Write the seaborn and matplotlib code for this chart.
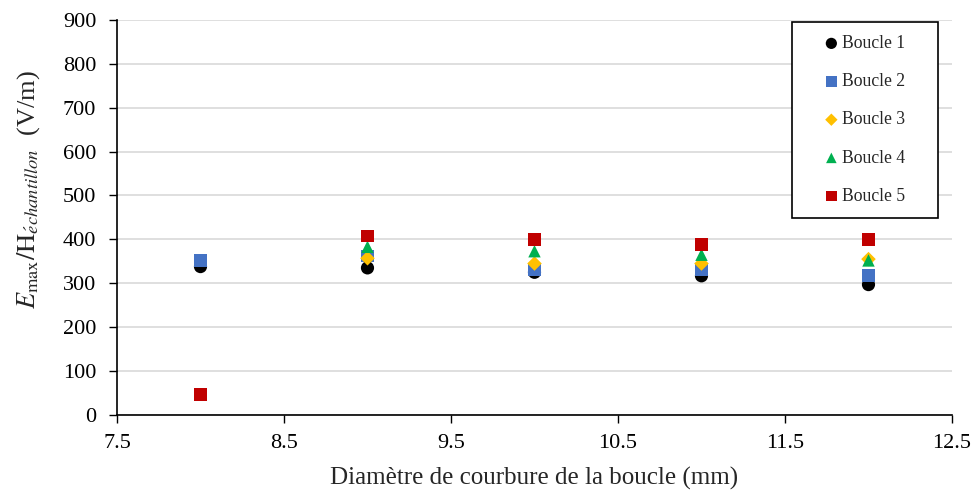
import numpy as np
import pandas as pd
import seaborn as sns
import matplotlib.pyplot as plt

# Données
diametre = [8, 9, 10, 11, 12]
boucle_1 = [338, 335, 325, 317, 297]
boucle_2 = [352, 362, 330, 330, 318]
boucle_3 = [np.nan, 357, 345, 345, 355]
boucle_4 = [np.nan, 383, 373, 365, 352]
boucle_5 = [47, 407, 400, 388, 400]

series = {'Boucle 1': boucle_1, 'Boucle 2': boucle_2, 'Boucle 3': boucle_3,
          'Boucle 4': boucle_4, 'Boucle 5': boucle_5}
couleurs = {'Boucle 1': '#000000', 'Boucle 2': '#4472C4', 'Boucle 3': '#FFC000',
            'Boucle 4': '#00B050', 'Boucle 5': '#C00000'}
marqueurs = {'Boucle 1': 'o', 'Boucle 2': 's', 'Boucle 3': 'D',
             'Boucle 4': '^', 'Boucle 5': 's'}
tailles = {'Boucle 1': 90, 'Boucle 2': 80, 'Boucle 3': 55, 'Boucle 4': 80, 'Boucle 5': 80}

df = pd.DataFrame([(d, nom, v) for nom, vals in series.items() for d, v in zip(diametre, vals)],
                  columns=['diametre', 'boucle', 'valeur']).dropna()

sns.set_style('white')
plt.rcParams['font.family'] = ['Liberation Serif', 'DejaVu Serif']
plt.rcParams['mathtext.fontset'] = 'stix'

fig, ax = plt.subplots(figsize=(9.79, 4.95), dpi=100)
fig.subplots_adjust(left=0.1195, right=0.9724, top=0.96, bottom=0.1616)

for nom in series:
    sub = df[df['boucle'] == nom]
    sns.scatterplot(data=sub, x='diametre', y='valeur', ax=ax, color=couleurs[nom],
                    marker=marqueurs[nom], s=tailles[nom], edgecolor='none', label=nom,
                    zorder=3)

ax.set_xlim(7.5, 12.5)
ax.set_ylim(0, 900)
ax.set_xticks(np.arange(7.5, 12.6, 1.0))
ax.set_xticklabels(['7.5', '8.5', '9.5', '10.5', '11.5', '12.5'])
ax.set_yticks(np.arange(0, 901, 100))
ax.yaxis.grid(True, color='#d9d9d9', linewidth=1.2)
ax.set_axisbelow(True)
for s in ['top', 'right']:
    ax.spines[s].set_visible(False)
for s in ['left', 'bottom']:
    ax.spines[s].set_color('black')
    ax.spines[s].set_linewidth(1.2)
ax.tick_params(axis='both', labelsize=16, direction='out', length=6, width=1, colors='black')
ax.tick_params(axis='y', pad=9, left=True)
ax.tick_params(axis='x', pad=8, bottom=True)

ax.set_xlabel('Diamètre de courbure de la boucle (mm)', fontsize=18, labelpad=10)
ax.set_ylabel(r'$E_{\mathrm{max}}/\mathrm{H}_{\acute{e}chantillon}$  (V/m)', fontsize=19)
ax.yaxis.set_label_coords(-0.09, 0.57)

leg = ax.legend(loc='upper left', bbox_to_anchor=(0.808, 0.499, 0.175, 0.496), mode='expand',
                fontsize=12.7, frameon=True, fancybox=False, edgecolor='black', framealpha=1,
                labelspacing=1.2, borderpad=0.75, handletextpad=-0.9, markerscale=0.85,
                handlelength=3.0, borderaxespad=0)
leg.get_frame().set_linewidth(1.2)

plt.savefig('out.png', dpi=100)
